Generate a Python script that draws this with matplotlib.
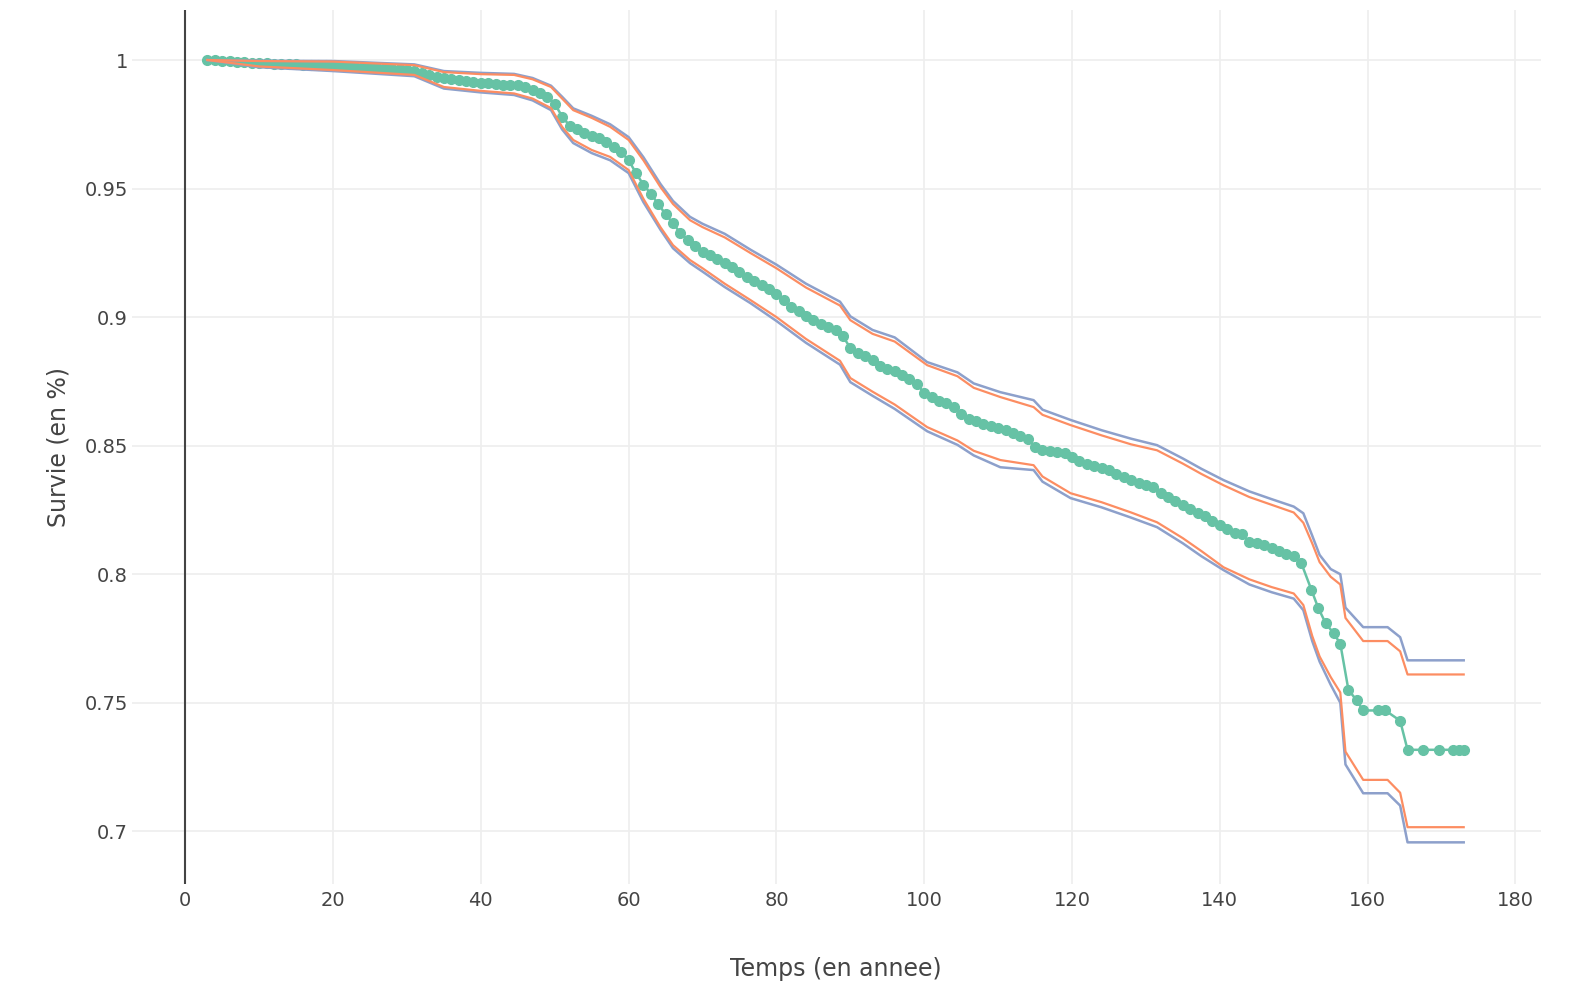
import numpy as np
import matplotlib.pyplot as plt

# courbe de survie (Kaplan-Meier)
temps = [3, 4, 5, 6, 7, 8, 9, 10, 11, 12, 13, 14, 15, 16, 17, 18, 19, 20,
         21, 22, 23, 24, 25, 26, 27, 28, 29, 30, 31, 32, 33, 34, 35, 36, 37, 38,
         39, 40, 41, 42, 43, 44, 45, 46, 47, 48, 49, 50, 51, 52, 53, 54, 55, 56,
         57, 58, 59, 60, 61, 62, 63, 64, 65, 66, 67, 68, 69, 70, 71, 72, 73, 74,
         75, 76, 77, 78, 79, 80, 81, 82, 83, 84, 85, 86, 87, 88, 89, 90, 91, 92,
         93, 94, 95, 96, 97, 98, 99, 100, 101, 102, 103, 104, 105, 106, 107, 108,
         109, 110, 111, 112, 113, 114, 115, 116, 117, 118, 119, 120, 121, 122,
         123, 124, 125, 126, 127, 128, 129, 130, 131, 132, 133, 134, 135, 136,
         137, 138, 139, 140, 141, 142, 143, 144, 145, 146, 147, 148, 149, 150,
         151, 152.4, 153.3, 154.3, 155.4, 156.3, 157.4, 158.5, 159.4, 161.4,
         162.4, 164.4, 165.4, 167.5, 169.6, 171.5, 172.3, 173.0]
survie = [1.0000, 1.0000, 0.9998, 0.9996, 0.9994, 0.9992, 0.9990, 0.9988,
          0.9987, 0.9986, 0.9985, 0.9984, 0.9983, 0.9982, 0.9981, 0.9980,
          0.9979, 0.9978, 0.9977, 0.9975, 0.9974, 0.9973, 0.9971, 0.9970,
          0.9968, 0.9966, 0.9964, 0.9962, 0.9958, 0.9950, 0.9940, 0.9933,
          0.9930, 0.9926, 0.9922, 0.9918, 0.9915, 0.9912, 0.9910, 0.9905,
          0.9903, 0.9903, 0.9902, 0.9895, 0.9885, 0.9872, 0.9858, 0.9830,
          0.9780, 0.9745, 0.9730, 0.9718, 0.9705, 0.9696, 0.9680, 0.9660,
          0.9642, 0.9610, 0.9560, 0.9515, 0.9480, 0.9440, 0.9400, 0.9365,
          0.9327, 0.9300, 0.9275, 0.9255, 0.9240, 0.9225, 0.9210, 0.9195,
          0.9175, 0.9155, 0.9140, 0.9125, 0.9108, 0.9090, 0.9065, 0.9040,
          0.9025, 0.9005, 0.8990, 0.8975, 0.8962, 0.8950, 0.8925, 0.8880,
          0.8862, 0.8850, 0.8835, 0.8810, 0.8800, 0.8790, 0.8775, 0.8760,
          0.8740, 0.8705, 0.8690, 0.8675, 0.8665, 0.8650, 0.8625, 0.8605,
          0.8595, 0.8585, 0.8578, 0.8570, 0.8562, 0.8550, 0.8538, 0.8525,
          0.8495, 0.8485, 0.8478, 0.8475, 0.8472, 0.8455, 0.8440, 0.8428,
          0.8420, 0.8415, 0.8405, 0.8390, 0.8378, 0.8365, 0.8355, 0.8348,
          0.8340, 0.8315, 0.8300, 0.8285, 0.8270, 0.8255, 0.8240, 0.8225,
          0.8205, 0.8190, 0.8175, 0.8160, 0.8155, 0.8125, 0.8120, 0.8113,
          0.8100, 0.8090, 0.8080, 0.8072, 0.8045, 0.7938, 0.7870, 0.7810,
          0.7770, 0.7730, 0.7550, 0.7510, 0.7470, 0.7470, 0.7470, 0.7430,
          0.7317, 0.7317, 0.7317, 0.7317, 0.7317, 0.7317]

# intervalles de confiance
temps_ic = [3, 10, 20, 31, 35, 40, 44.5, 47, 49.5, 51, 52.5, 55, 57.5, 60, 62,
            64.3, 66, 68.3, 70, 73, 76.5, 80, 84, 88.6, 90, 93, 96, 100.4,
            104.5, 106.7, 110.3, 114.8, 116, 119.8, 124, 128, 131.5, 135,
            137.5, 140.5, 144, 147, 150, 151.3, 152.5, 153.5, 155, 156.3, 157,
            159.4, 162.7, 164.4, 165.4, 173]
sup_orange = [1.0000, 0.9996, 0.9994, 0.9980, 0.9953, 0.9945, 0.9942, 0.9925,
              0.9895, 0.9850, 0.9805, 0.9775, 0.9740, 0.9689, 0.9610, 0.9506,
              0.9440, 0.9377, 0.9350, 0.9310, 0.9249, 0.9190, 0.9115, 0.9045,
              0.8988, 0.8935, 0.8905, 0.8813, 0.8770, 0.8725, 0.8689, 0.8650,
              0.8620, 0.8580, 0.8540, 0.8505, 0.8482, 0.8430, 0.8390, 0.8346,
              0.8300, 0.8270, 0.8240, 0.8200, 0.8120, 0.8047, 0.7990, 0.7960,
              0.7830, 0.7740, 0.7740, 0.7700, 0.7610, 0.7610]
sup_bleu = [1.0000, 0.9997, 0.9996, 0.9983, 0.9957, 0.9950, 0.9946, 0.9930,
            0.9900, 0.9857, 0.9812, 0.9783, 0.9750, 0.9700, 0.9622, 0.9518,
            0.9452, 0.9390, 0.9363, 0.9324, 0.9262, 0.9204, 0.9130, 0.9060,
            0.9003, 0.8950, 0.8921, 0.8825, 0.8785, 0.8742, 0.8708, 0.8677,
            0.8640, 0.8600, 0.8560, 0.8527, 0.8502, 0.8450, 0.8410, 0.8366,
            0.8322, 0.8292, 0.8263, 0.8237, 0.8150, 0.8075, 0.8020, 0.8000,
            0.7870, 0.7794, 0.7794, 0.7755, 0.7665, 0.7665]
inf_orange = [1.0000, 0.9975, 0.9961, 0.9942, 0.9895, 0.9880, 0.9870, 0.9850,
              0.9813, 0.9740, 0.9689, 0.9650, 0.9623, 0.9572, 0.9460, 0.9350,
              0.9280, 0.9222, 0.9190, 0.9130, 0.9066, 0.9000, 0.8915, 0.8830,
              0.8763, 0.8710, 0.8660, 0.8572, 0.8520, 0.8480, 0.8444, 0.8424,
              0.8380, 0.8315, 0.8280, 0.8240, 0.8202, 0.8140, 0.8090, 0.8027,
              0.7980, 0.7950, 0.7925, 0.7880, 0.7760, 0.7680, 0.7600, 0.7540,
              0.7310, 0.7200, 0.7200, 0.7150, 0.7016, 0.7016]
inf_bleu = [1.0000, 0.9972, 0.9957, 0.9937, 0.9889, 0.9874, 0.9864, 0.9843,
            0.9805, 0.9730, 0.9677, 0.9638, 0.9610, 0.9560, 0.9447, 0.9340,
            0.9268, 0.9210, 0.9177, 0.9117, 0.9054, 0.8985, 0.8900, 0.8815,
            0.8747, 0.8694, 0.8643, 0.8556, 0.8503, 0.8462, 0.8416, 0.8405,
            0.8360, 0.8296, 0.8260, 0.8220, 0.8183, 0.8120, 0.8070, 0.8016,
            0.7960, 0.7930, 0.7905, 0.7860, 0.7740, 0.7660, 0.7570, 0.7500,
            0.7260, 0.7148, 0.7148, 0.7100, 0.6957, 0.6957]

xticks = [0, 20, 40, 60, 80, 100, 120, 140, 160, 180]
yticks = [0.7, 0.75, 0.8, 0.85, 0.9, 0.95, 1.0]
ylabels = ["0.7", "0.75", "0.8", "0.85", "0.9", "0.95", "1"]

fig, ax = plt.subplots(figsize=(15.72, 9.88), dpi=100)
fig.subplots_adjust(left=0.084, right=0.98, bottom=0.105, top=0.99)

ax.plot(temps, survie, color="#66c2a5", lw=1.8, marker="o", ms=7, zorder=3)
ax.plot(temps_ic, sup_bleu, color="#8da0cb", lw=1.8, zorder=4)
ax.plot(temps_ic, inf_bleu, color="#8da0cb", lw=1.8, zorder=4)
ax.plot(temps_ic, sup_orange, color="#fc8d62", lw=1.6, zorder=5)
ax.plot(temps_ic, inf_orange, color="#fc8d62", lw=1.6, zorder=5)

# ligne du zero
ax.axvline(0, color="#444444", lw=1.5, zorder=2)

ax.set_xlim(-7.2, 183.4)
ax.set_ylim(0.6794, 1.0195)
ax.set_xticks(xticks)
ax.set_yticks(yticks)
ax.set_yticklabels(ylabels)
ax.grid(color="#eeeeee", lw=1.2)
ax.set_axisbelow(True)
for s in ax.spines.values():
    s.set_visible(False)
ax.tick_params(length=0, labelsize=14, colors="#444444")
ax.tick_params(axis="x", pad=5)
ax.tick_params(axis="y", pad=3)

ax.set_xlabel("Temps (en annee)", fontsize=17, color="#444444", labelpad=34)
ax.set_ylabel("Survie (en %)", fontsize=17, color="#444444", labelpad=10)

fig.savefig("out.png", dpi=100)
